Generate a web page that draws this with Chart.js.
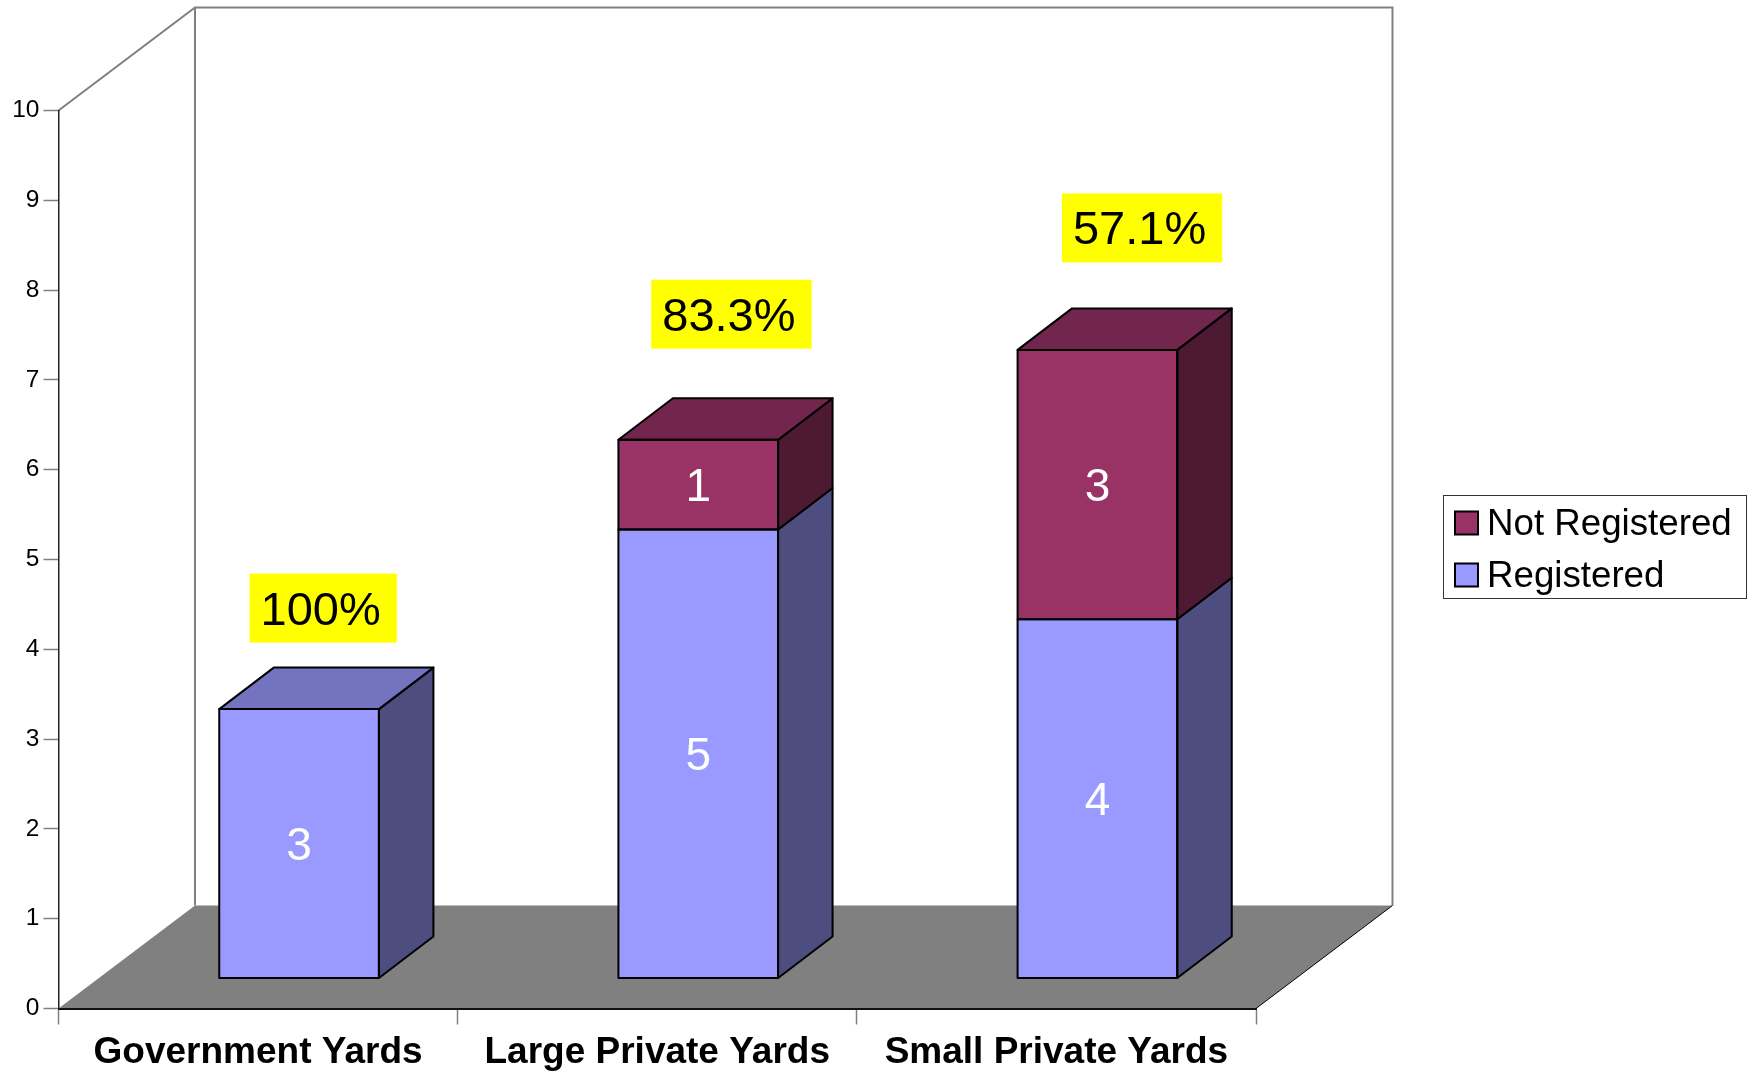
<!DOCTYPE html>
<html>
<head>
<meta charset="utf-8">
<title>Yards</title>
<script src="https://cdn.jsdelivr.net/npm/chart.js@4/dist/chart.umd.min.js"></script>
<style>
  body { margin: 0; background: #fff; }
  canvas { display: block; }
</style>
</head>
<body>
<canvas id="yardsChart" width="1754" height="1078"></canvas>
<script>
// Chart data
const categories = ['Government Yards', 'Large Private Yards', 'Small Private Yards'];
const registered = [3, 5, 4];
const notRegistered = [0, 1, 3];
const percentLabels = ['100%', '83.3%', '57.1%'];

// Colors
const blueFront = '#9999FF', blueSide = '#4D4D7F', blueTop = '#7373BF';
const maroonFront = '#993366', maroonSide = '#4D1933', maroonTop = '#73264D';
const greyColor = '#808080';
const fontName = '"Liberation Sans", Arial, sans-serif';

// 3D look: the wall depth, the depth of a bar and how far bars sit in from the front edge
const wallDepth = { x: 136.5, y: -103 };
const barDepth = { x: 54.5, y: -41.5 };
const barShift = { x: 41, y: -30 };
// Where the yellow boxes sit, relative to the front top centre of their bar
const calloutShift = [{ x: -49.5, y: -135.5 }, { x: -47, y: -160 }, { x: -35.5, y: -156.5 }];

function poly(ctx, pts, fill, stroke, width) {
  ctx.beginPath();
  pts.forEach(function (p, i) {
    if (i === 0) ctx.moveTo(p[0], p[1]);
    else ctx.lineTo(p[0], p[1]);
  });
  ctx.closePath();
  if (fill) {
    ctx.fillStyle = fill;
    ctx.fill();
  }
  if (stroke) {
    ctx.strokeStyle = stroke;
    ctx.lineWidth = width;
    ctx.stroke();
  }
}

const box3d = {
  id: 'box3d',
  // back walls and floor go under the axes
  beforeDraw(chart) {
    const ctx = chart.ctx, a = chart.chartArea;
    const dx = wallDepth.x, dy = wallDepth.y;
    ctx.save();
    ctx.fillStyle = '#fff';
    ctx.fillRect(0, 0, chart.width, chart.height);
    poly(ctx, [[a.left, a.bottom], [a.left + dx, a.bottom + dy], [a.right + dx, a.bottom + dy], [a.right, a.bottom]], greyColor);
    ctx.strokeStyle = greyColor;
    ctx.lineWidth = 2;
    ctx.lineJoin = 'miter';
    ctx.beginPath();
    ctx.moveTo(a.left, a.top);
    ctx.lineTo(a.left + dx, a.top + dy);
    ctx.lineTo(a.right + dx, a.top + dy);
    ctx.lineTo(a.right + dx, a.bottom + dy);
    ctx.moveTo(a.left + dx, a.top + dy);
    ctx.lineTo(a.left + dx, a.bottom + dy);
    ctx.stroke();
    ctx.strokeStyle = '#000';
    ctx.lineWidth = 1;
    ctx.beginPath();
    ctx.moveTo(a.right, a.bottom);
    ctx.lineTo(a.right + dx, a.bottom + dy);
    ctx.stroke();
    ctx.restore();
  },
  beforeDatasetsDraw(chart) {
    chart.ctx.save();
    chart.ctx.translate(barShift.x, barShift.y);
  },
  afterDatasetsDraw(chart) {
    const ctx = chart.ctx;
    const dx = barDepth.x, dy = barDepth.y;
    const sides = [blueSide, maroonSide], tops = [blueTop, maroonTop];
    const values = [registered, notRegistered];
    ctx.lineJoin = 'round';

    // faces and outlines of the stacks
    [0, 1].forEach(function (ds) {
      chart.getDatasetMeta(ds).data.forEach(function (bar, i) {
        if (!values[ds][i]) return;
        const l = bar.x - bar.width / 2, r = bar.x + bar.width / 2;
        poly(ctx, [[r, bar.y], [r + dx, bar.y + dy], [r + dx, bar.base + dy], [r, bar.base]], sides[ds], '#000', 2);
        if (ds === 1 || !notRegistered[i]) {
          poly(ctx, [[l, bar.y], [l + dx, bar.y + dy], [r + dx, bar.y + dy], [r, bar.y]], tops[ds], '#000', 2);
        }
        poly(ctx, [[l, bar.y], [r, bar.y], [r, bar.base], [l, bar.base]], null, '#000', 2);
      });
    });

    // values in the bars
    ctx.font = '46px ' + fontName;
    ctx.fillStyle = '#fff';
    ctx.textAlign = 'center';
    ctx.textBaseline = 'alphabetic';
    [0, 1].forEach(function (ds) {
      chart.getDatasetMeta(ds).data.forEach(function (bar, i) {
        if (!values[ds][i]) return;
        ctx.fillText(values[ds][i], bar.x, (bar.y + bar.base) / 2 + 16.5);
      });
    });

    // yellow percentage boxes
    ctx.font = '47px ' + fontName;
    ctx.textAlign = 'left';
    percentLabels.forEach(function (label, i) {
      const top = chart.getDatasetMeta(notRegistered[i] ? 1 : 0).data[i];
      const x = top.x + calloutShift[i].x, y = top.y + calloutShift[i].y;
      const w = ctx.measureText(label).width + 27;
      ctx.fillStyle = '#FFFF00';
      ctx.fillRect(x, y, w, 69);
      ctx.fillStyle = '#000';
      ctx.fillText(label, x + 11, y + 51);
    });
    ctx.restore();

    // legend, top series first
    ctx.save();
    ctx.strokeStyle = '#333';
    ctx.lineWidth = 1;
    ctx.strokeRect(1443.5, 495.5, 303, 103);
    ctx.font = '36.7px ' + fontName;
    ctx.textAlign = 'left';
    ctx.textBaseline = 'alphabetic';
    [1, 0].forEach(function (ds, row) {
      const y = 511.5 + row * 52;
      ctx.fillStyle = chart.data.datasets[ds].backgroundColor;
      ctx.fillRect(1455, y, 23, 23);
      ctx.strokeStyle = '#000';
      ctx.lineWidth = 2;
      ctx.strokeRect(1455, y, 23, 23);
      ctx.fillStyle = '#000';
      ctx.fillText(chart.data.datasets[ds].label, 1487, y + 23);
    });
    ctx.restore();
  }
};

const yardsChart = new Chart(document.getElementById('yardsChart'), {
  type: 'bar',
  data: {
    labels: categories,
    datasets: [
      { label: 'Registered', data: registered, backgroundColor: blueFront, borderWidth: 0 },
      { label: 'Not Registered', data: notRegistered, backgroundColor: maroonFront, borderWidth: 0 }
    ]
  },
  options: {
    responsive: false,
    animation: false,
    categoryPercentage: 0.4,
    barPercentage: 1,
    layout: { padding: { top: 110.5, right: 498, left: 0, bottom: 0 } },
    plugins: {
      legend: { display: false },
      tooltip: { enabled: false }
    },
    scales: {
      x: {
        stacked: true,
        afterFit: function (scale) { scale.height = 69.5; },
        grid: { drawOnChartArea: false, tickLength: 16, tickColor: greyColor, tickWidth: 1.5, offset: true },
        border: { color: '#111', width: 2 },
        ticks: { color: '#000', padding: 6, maxRotation: 0, font: { family: fontName, size: 37, weight: 'bold' } }
      },
      y: {
        stacked: true,
        min: 0,
        max: 10,
        afterFit: function (scale) { scale.width = 58.5; },
        grid: { drawOnChartArea: false, tickLength: 15, tickColor: greyColor, tickWidth: 1.5 },
        border: { color: '#222', width: 1.5 },
        ticks: { stepSize: 1, color: '#000', padding: 4, font: { family: fontName, size: 24.5 } }
      }
    }
  },
  plugins: [box3d]
});
</script>
</body>
</html>
